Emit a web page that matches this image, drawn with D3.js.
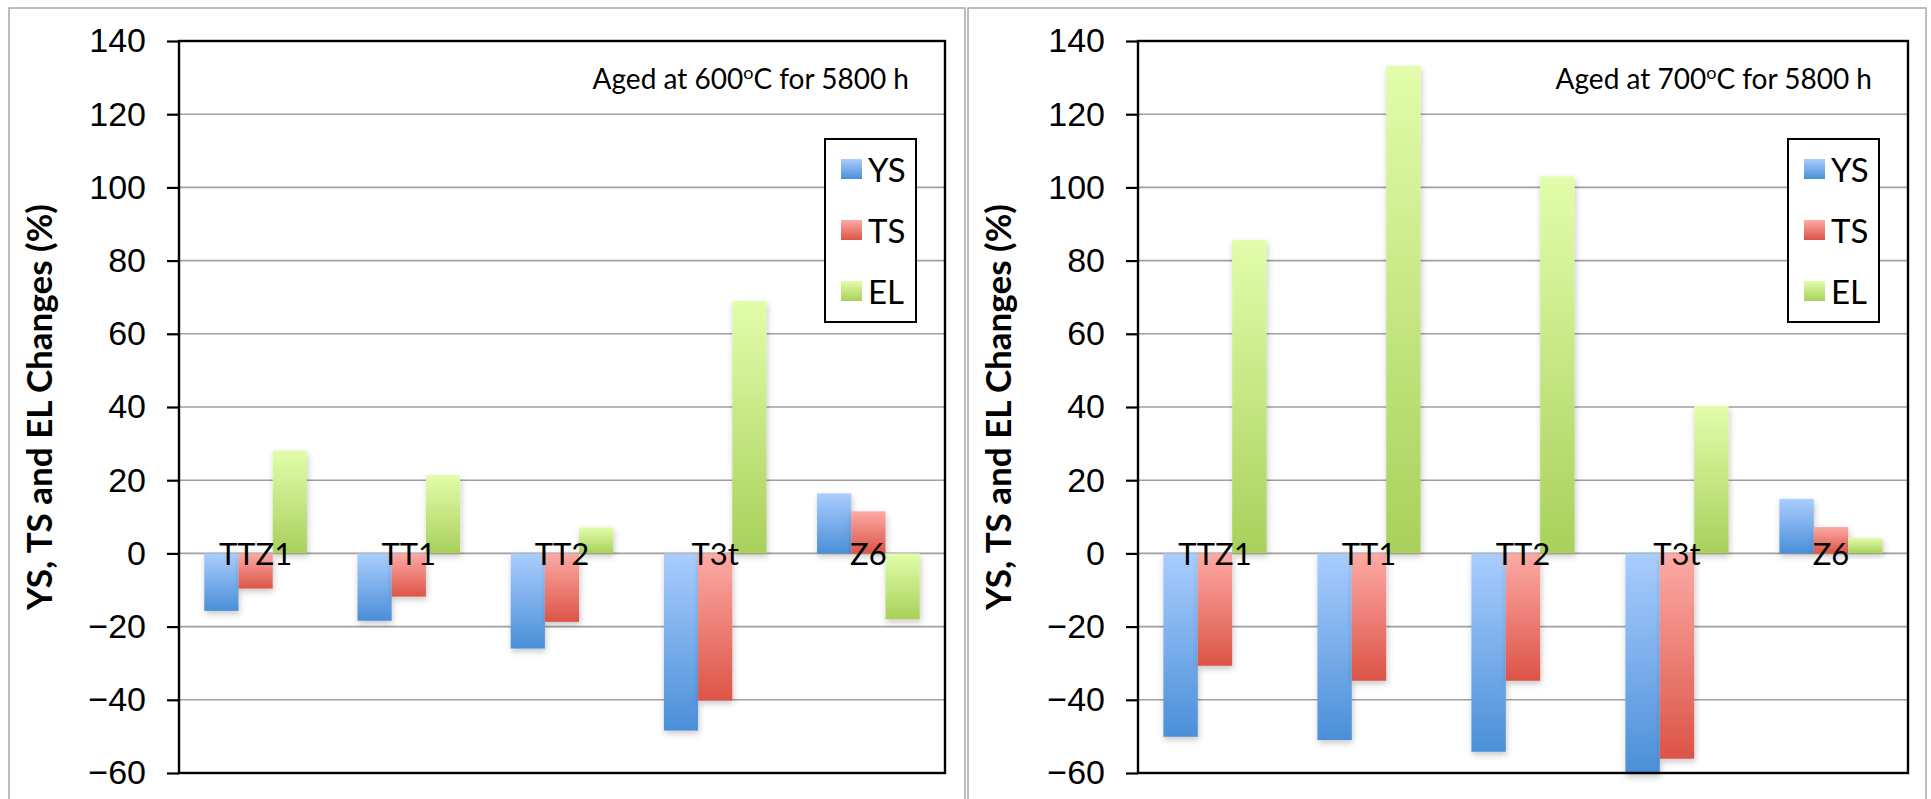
<!DOCTYPE html>
<html lang="en">
<head>
  <meta charset="UTF-8">
  <title>YS, TS and EL changes after aging</title>
  <script src="https://d3js.org/d3.v7.min.js"></script>
  <style>
    body {
      margin: 0;
      background: white;
    }
    svg {
      display: block;
      font-family: Lato, "Open Sans", sans-serif;
    }
    .frame {
      fill: none;
      stroke: #a8a8a8;
      stroke-width: 1.5;
    }
    .grid line {
      stroke: #a0a0a0;
      stroke-width: 1.6;
    }
    .tick-label {
      font-size: 34px;
      fill: #000;
    }
    .cat-label {
      font-size: 31px;
      fill: #000;
    }
    .y-title {
      font-size: 35px;
      font-weight: bold;
    }
    .note {
      font-size: 28px;
    }
    .legend-text {
      font-size: 33px;
    }
  </style>
</head>
<body>
<script>
  // data (% change after 5800 h aging)
  const categories = ["TTZ1", "TT1", "TT2", "T3t", "Z6"];
  const seriesNames = ["YS", "TS", "EL"];

  const ys600 = [-15.7, -18.4, -26.0, -48.4, 16.4];
  const ts600 = [-9.6, -11.8, -18.7, -40.2, 11.5];
  const el600 = [28.1, 21.4, 7.1, 69.0, -18.0];

  const ys700 = [-50.1, -51.0, -54.2, -60.3, 14.9];
  const ts700 = [-30.7, -34.8, -34.8, -56.1, 7.2];
  const el700 = [85.6, 133.2, 103.0, 40.3, 4.2];

  const yTicks = [-60, -40, -20, 0, 20, 40, 60, 80, 100, 120, 140];
  const temps = ["600", "700"];

  const gradColors = {
    YS: ["#aacdfe", "#4a8fd8"],
    TS: ["#fdaaa5", "#dc5447"],
    EL: ["#e2fdab", "#a9d05b"]
  };

  const W = 1931, H = 799;
  const svg = d3.select("body").append("svg")
    .attr("width", W)
    .attr("height", H);

  const defs = svg.append("defs");
  seriesNames.forEach(s => {
    const g = defs.append("linearGradient")
      .attr("id", "grad-" + s)
      .attr("x1", 0).attr("y1", 0).attr("x2", 0).attr("y2", 1);
    g.append("stop").attr("offset", "0%").attr("stop-color", gradColors[s][0]);
    g.append("stop").attr("offset", "100%").attr("stop-color", gradColors[s][1]);
  });
  const shadow = defs.append("filter").attr("id", "shadow")
    .attr("x", "-30%").attr("y", "-30%").attr("width", "160%").attr("height", "160%");
  shadow.append("feDropShadow")
    .attr("dx", 1).attr("dy", 3).attr("stdDeviation", 3)
    .attr("flood-color", "#000").attr("flood-opacity", 0.22);

  // outer frames of the two panels
  svg.append("rect").attr("class", "frame")
    .attr("x", 9).attr("y", 8).attr("width", 956).attr("height", 820);
  svg.append("rect").attr("class", "frame")
    .attr("x", 968).attr("y", 8).attr("width", 958).attr("height", 820);

  function drawPanel(opts) {
    const { left, right, top, bottom, frameLeft, temp, ys, ts, el } = opts;
    const rows = categories.map((c, i) => ({ cat: c, YS: ys[i], TS: ts[i], EL: el[i] }));

    const y = d3.scaleLinear().domain([-60, 140]).range([bottom, top]);
    const x0 = d3.scaleBand().domain(categories).range([left, right])
      .paddingInner(0.33).paddingOuter(0.165);
    const x1 = d3.scaleBand().domain(seriesNames).range([0, x0.bandwidth()]);

    const g = svg.append("g");

    // horizontal gridlines
    g.append("g").attr("class", "grid")
      .selectAll("line")
      .data(yTicks.filter(t => t !== -60 && t !== 140))
      .join("line")
      .attr("x1", left).attr("x2", right)
      .attr("y1", d => y(d)).attr("y2", d => y(d));

    // bars
    const groups = g.append("g").selectAll("g")
      .data(rows)
      .join("g")
      .attr("transform", d => `translate(${x0(d.cat)},0)`);
    groups.selectAll("rect")
      .data(d => seriesNames.map(s => ({ s, v: d[s] })))
      .join("rect")
      .attr("x", d => x1(d.s))
      .attr("width", x1.bandwidth())
      .attr("y", d => y(Math.max(0, d.v)))
      .attr("height", d => Math.abs(y(d.v) - y(0)))
      .attr("fill", d => `url(#grad-${d.s})`)
      .attr("filter", "url(#shadow)");

    // y axis with outside ticks
    const axis = d3.axisLeft(y).tickValues(yTicks).tickSize(12).tickPadding(21);
    const ax = g.append("g").attr("transform", `translate(${left},0)`).call(axis);
    ax.select(".domain").remove();
    ax.selectAll(".tick line").attr("stroke", "#000").attr("stroke-width", 2.2);
    ax.selectAll(".tick text").attr("class", "tick-label")
      .attr("font-family", null).attr("font-size", null);

    // plot border
    g.append("rect")
      .attr("x", left).attr("y", top)
      .attr("width", right - left).attr("height", bottom - top)
      .attr("fill", "none").attr("stroke", "#000").attr("stroke-width", 2.4);

    // category labels sitting on the zero line
    g.append("g").selectAll("text")
      .data(categories)
      .join("text")
      .attr("class", "cat-label")
      .attr("x", d => x0(d) + x0.bandwidth() / 2)
      .attr("y", y(0) + 12)
      .attr("text-anchor", "middle")
      .text(d => d);

    // y title
    g.append("text")
      .attr("class", "y-title")
      .attr("transform", `translate(${frameLeft + 38},${(top + bottom) / 2}) rotate(-90)`)
      .attr("text-anchor", "middle")
      .attr("dominant-baseline", "central")
      .text("YS, TS and EL Changes (%)");

    // note in top right
    const note = g.append("text")
      .attr("class", "note")
      .attr("x", right - 36).attr("y", 89)
      .attr("text-anchor", "end");
    note.append("tspan").text(`Aged at ${temp}`);
    note.append("tspan").attr("font-size", 18).attr("dy", -10).text("o");
    note.append("tspan").attr("dy", 10).text("C for 5800 h");

    // legend
    const lg = g.append("g").attr("transform", `translate(${right - 120},139)`);
    lg.append("rect")
      .attr("width", 91).attr("height", 183)
      .attr("fill", "white").attr("stroke", "#000").attr("stroke-width", 2);
    const items = lg.selectAll("g.item")
      .data(seriesNames)
      .join("g")
      .attr("class", "item")
      .attr("transform", (d, i) => `translate(16,${20 + i * 61})`);
    items.append("rect")
      .attr("width", 21).attr("height", 20)
      .attr("fill", d => `url(#grad-${d})`);
    items.append("text")
      .attr("class", "legend-text")
      .attr("x", 27).attr("y", 23)
      .text(d => d);
  }

  drawPanel({ left: 179, right: 945, top: 41, bottom: 773, frameLeft: 0,
              temp: temps[0], ys: ys600, ts: ts600, el: el600 });
  drawPanel({ left: 1138, right: 1908, top: 41, bottom: 773, frameLeft: 959,
              temp: temps[1], ys: ys700, ts: ts700, el: el700 });
</script>
</body>
</html>
